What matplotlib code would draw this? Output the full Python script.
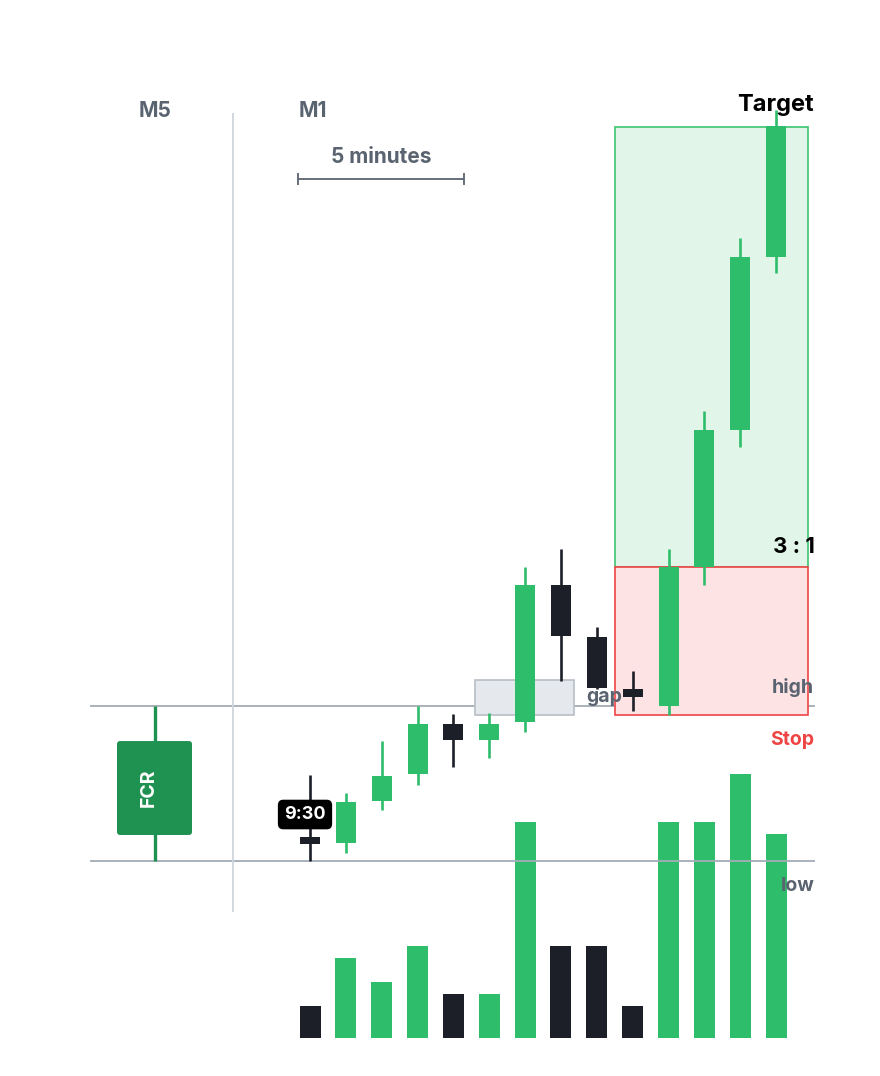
import numpy as np
import matplotlib.pyplot as plt
from matplotlib.patches import Rectangle, FancyBboxPatch

plt.rcParams['font.family'] = ['Inter', 'DejaVu Sans']

# M1 candles (price units), 9:30 onwards
opens = [101.55, 101.16, 103.87, 105.61, 108.84, 107.81, 108.97, 117.81, 114.45, 111.10, 110.00, 118.97, 127.81, 138.97]
closes = [101.10, 103.81, 105.48, 108.84, 107.81, 108.84, 117.81, 114.52, 111.16, 110.58, 118.97, 127.81, 138.97, 147.42]
highs = [105.55, 104.39, 107.74, 110.00, 109.48, 109.55, 118.97, 120.13, 115.10, 112.26, 120.13, 129.03, 140.19, 148.45]
lows = [100.00, 100.52, 103.29, 104.90, 106.06, 106.65, 108.32, 111.61, 111.10, 109.68, 109.42, 117.81, 126.71, 137.94]
volumes = [8, 20, 14, 23, 11, 11, 54, 23, 23, 8, 54, 54, 66, 51]

# M5 first candle range (FCR)
fcr_open, fcr_close, fcr_high, fcr_low = 101.68, 107.74, 110.0, 100.0
range_high, range_low = 110.0, 100.0
gap_top, gap_bottom = 111.68, 109.42
entry, stop, target = 118.97, 109.42, 147.35

GREEN = '#2ebd6b'
DARK = '#1c1f27'
GRAY_TXT = '#5a6370'

fig = plt.figure(figsize=(8.8, 10.76), dpi=100)

# volume underneath the price layer
vax = fig.add_axes([0, 38 / 1076, 1, 278 / 1076])
vax.set_zorder(1)
vax.patch.set_alpha(0)
vax.set_xlim(0, 880)
vax.set_ylim(0, 69.5)
vax.axis('off')

ax = fig.add_axes([0, 0, 1, 1])
ax.set_zorder(2)
ax.patch.set_alpha(0)
ax.set_xlim(0, 880)
ax.set_ylim(86.13, 155.55)
ax.axis('off')

xs = 310 + 35.85 * np.arange(len(opens))
body_w = 20

vcols = [GREEN if c >= o else DARK for o, c in zip(opens, closes)]
vax.bar(xs, volumes, width=21, color=vcols, zorder=2)

# reference lines
ax.hlines([range_high, range_low], 90, 815, color='#a3acb6', lw=1.3, zorder=1)
ax.vlines(233, 96.71, 148.26, color='#d0d6dd', lw=1.3, zorder=1)

# target / stop zones
ax.add_patch(Rectangle((615, entry), 193, target - entry, facecolor='#e1f6e8',
                       edgecolor='#3dc46f', lw=1.2, zorder=1))
ax.add_patch(Rectangle((615, stop), 193, entry - stop, facecolor='#fde3e3',
                       edgecolor='#ef4444', lw=1.2, zorder=1))
ax.add_patch(Rectangle((475, gap_bottom), 99, gap_top - gap_bottom, facecolor='#e5e8ec',
                       edgecolor='#b8bec6', lw=1.2, zorder=1))

# FCR candle
ax.vlines(155, fcr_low, fcr_high, color='#1f9150', lw=2.4, zorder=2)
ax.add_patch(FancyBboxPatch((117, fcr_open), 75, fcr_close - fcr_open,
                            boxstyle='round,pad=0,rounding_size=3', mutation_aspect=1 / 15.5,
                            facecolor='#1f9150', edgecolor='none', zorder=3))
ax.text(149, (fcr_open + fcr_close) / 2, 'FCR', rotation=90, color='white',
        fontsize=14, fontweight='bold', ha='center', va='center', zorder=4)

# M1 candles
for x, o, c, h, l in zip(xs, opens, closes, highs, lows):
    col = GREEN if c >= o else DARK
    ax.vlines(x, l, h, color=col, lw=1.9, zorder=3)
    ax.add_patch(Rectangle((x - body_w / 2, min(o, c)), body_w, max(abs(c - o), 0.45),
                           facecolor=col, edgecolor='none', zorder=4))

# 9:30 label
ax.text(305, 103.0, '9:30', color='white', fontsize=13, fontweight='bold',
        ha='center', va='center', zorder=6,
        bbox=dict(boxstyle='round,pad=0.35,rounding_size=0.3', facecolor='black', edgecolor='none'))

# labels
ax.text(155, 148.4, 'M5', color=GRAY_TXT, fontsize=15, fontweight='bold', ha='center', va='center')
ax.text(313, 148.4, 'M1', color=GRAY_TXT, fontsize=15, fontweight='bold', ha='center', va='center')
ax.text(381, 145.4, '5 minutes', color=GRAY_TXT, fontsize=15, fontweight='bold', ha='center', va='center')
ax.hlines(144.0, 298, 464, color=GRAY_TXT, lw=1.3)
ax.vlines([298, 464], 143.6, 144.4, color=GRAY_TXT, lw=1.3)

ax.text(814, 148.8, 'Target', color='black', fontsize=17, fontweight='bold', ha='right', va='center', zorder=6)
ax.text(815, 120.25, '3 : 1', color='black', fontsize=16, fontweight='bold', ha='right', va='center', zorder=6)
ax.text(814, 111.2, 'high', color=GRAY_TXT, fontsize=14, fontweight='bold', ha='right', va='center', zorder=6)
ax.text(814, 107.8, 'Stop', color='#ef4444', fontsize=14, fontweight='bold', ha='right', va='center', zorder=6)
ax.text(814, 98.4, 'low', color=GRAY_TXT, fontsize=14, fontweight='bold', ha='right', va='center', zorder=6)
ax.text(604, 110.55, 'gap', color=GRAY_TXT, fontsize=14, fontweight='bold', ha='center', va='center', zorder=6)

fig.savefig('out.png', dpi=100)
